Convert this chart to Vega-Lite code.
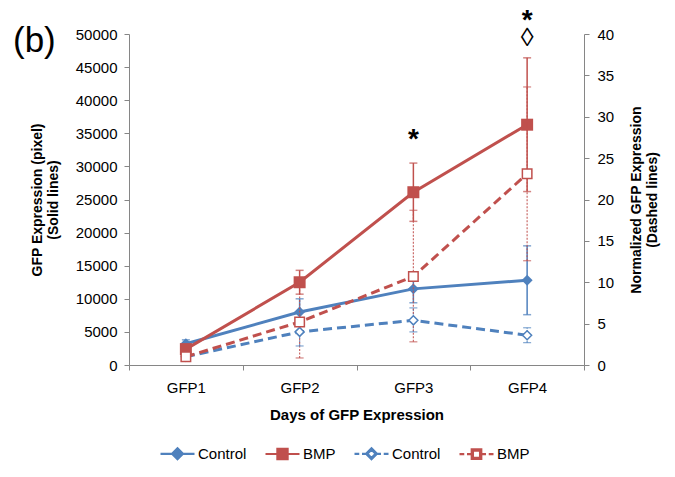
{
  "$schema": "https://vega.github.io/schema/vega-lite/v6.json",
  "width": 455,
  "height": 331,
  "autosize": {"type": "none"},
  "padding": {"left": 129, "top": 34, "right": 91, "bottom": 112},
  "background": "white",
  "config": {
    "view": {"stroke": null},
    "font": "Liberation Sans",
    "axis": {
      "grid": false,
      "domainColor": "#868686",
      "tickColor": "#868686",
      "labelColor": "#000000",
      "titleColor": "#000000",
      "labelFont": "Liberation Sans",
      "titleFont": "Liberation Sans",
      "labelFontSize": 15,
      "titleFontSize": 14,
      "titleFontWeight": "bold",
      "tickSize": 5,
      "labelOverlap": false
    },
    "legend": {"labelFont": "Liberation Sans", "labelFontSize": 15, "labelColor": "#000000"}
  },
  "title": {
    "text": "(b)",
    "anchor": "start",
    "frame": "group",
    "orient": "top",
    "fontSize": 35,
    "fontWeight": "normal",
    "font": "Liberation Sans",
    "color": "#000000",
    "offset": 0,
    "baseline": "top",
    "dx": -116,
    "dy": 52
  },
  "datasets": {
    "px": [
      {"day": "GFP1", "key": "c1", "value": 3200, "lo": 2600, "hi": 3800},
      {"day": "GFP2", "key": "c1", "value": 8000, "lo": 6000, "hi": 10000},
      {"day": "GFP3", "key": "c1", "value": 11500, "lo": 9400, "hi": 13600},
      {"day": "GFP4", "key": "c1", "value": 12800, "lo": 7600, "hi": 18000},
      {"day": "GFP1", "key": "b1", "value": 2400, "lo": 1900, "hi": 2900},
      {"day": "GFP2", "key": "b1", "value": 12500, "lo": 10700, "hi": 14300},
      {"day": "GFP3", "key": "b1", "value": 26100, "lo": 21700, "hi": 30500},
      {"day": "GFP4", "key": "b1", "value": 36300, "lo": 26200, "hi": 46400}
    ],
    "norm": [
      {"day": "GFP1", "key": "c2", "value": 1.0, "lo": 0.8, "hi": 1.2},
      {"day": "GFP2", "key": "c2", "value": 4.0, "lo": 2.3, "hi": 5.7},
      {"day": "GFP3", "key": "c2", "value": 5.4, "lo": 4.0, "hi": 6.9},
      {"day": "GFP4", "key": "c2", "value": 3.6, "lo": 2.7, "hi": 4.5},
      {"day": "GFP1", "key": "b2", "value": 1.0, "lo": 0.7, "hi": 1.3},
      {"day": "GFP2", "key": "b2", "value": 5.2, "lo": 0.85, "hi": 9.5},
      {"day": "GFP3", "key": "b2", "value": 10.7, "lo": 2.8, "hi": 18.7},
      {"day": "GFP4", "key": "b2", "value": 23.1, "lo": 12.6, "hi": 33.6}
    ],
    "ann": [
      {"day": "GFP3", "pos": 34000, "label": "*"},
      {"day": "GFP4", "pos": 52000, "label": "*"},
      {"day": "GFP4", "pos": 49400, "label": "◊"}
    ]
  },
  "encoding": {
    "x": {
      "field": "day",
      "type": "ordinal",
      "scale": {"type": "band", "paddingInner": 0, "paddingOuter": 0, "domain": ["GFP1", "GFP2", "GFP3", "GFP4"]},
      "axis": {
        "title": "Days of GFP Expression",
        "labelAngle": 0,
        "tickBand": "extent",
        "labelPadding": 10,
        "titlePadding": 12,
        "titleFontSize": 15
      }
    }
  },
  "layer": [
    {
      "data": {"name": "px"},
      "layer": [
        {
          "mark": {"type": "rule", "strokeWidth": 1.5},
          "encoding": {
            "y": {
              "field": "lo",
              "type": "quantitative",
              "scale": {"domain": [0, 50000], "nice": false, "zero": true},
              "axis": {"title": ["GFP Expression (pixel)", "(Solid lines)"], "values": [0, 5000, 10000, 15000, 20000, 25000, 30000, 35000, 40000, 45000, 50000], "format": "d", "labelPadding": 7, "titlePadding": 15, "titleFontSize": 14}
            },
            "y2": {"field": "hi"},
            "color": {"field": "key", "type": "nominal"}
          }
        },
        {
          "mark": {"type": "tick", "size": 8, "thickness": 1.5},
          "encoding": {
            "y": {"field": "lo", "type": "quantitative", "axis": {"title": ["GFP Expression (pixel)", "(Solid lines)"], "values": [0, 5000, 10000, 15000, 20000, 25000, 30000, 35000, 40000, 45000, 50000], "format": "d", "labelPadding": 7, "titlePadding": 15, "titleFontSize": 14}},
            "color": {"field": "key", "type": "nominal"}
          }
        },
        {
          "mark": {"type": "tick", "size": 8, "thickness": 1.5},
          "encoding": {
            "y": {"field": "hi", "type": "quantitative", "axis": {"title": ["GFP Expression (pixel)", "(Solid lines)"], "values": [0, 5000, 10000, 15000, 20000, 25000, 30000, 35000, 40000, 45000, 50000], "format": "d", "labelPadding": 7, "titlePadding": 15, "titleFontSize": 14}},
            "color": {"field": "key", "type": "nominal"}
          }
        },
        {
          "mark": {"type": "line", "strokeWidth": 3},
          "encoding": {
            "y": {"field": "value", "type": "quantitative", "axis": {"title": ["GFP Expression (pixel)", "(Solid lines)"], "values": [0, 5000, 10000, 15000, 20000, 25000, 30000, 35000, 40000, 45000, 50000], "format": "d", "labelPadding": 7, "titlePadding": 15, "titleFontSize": 14}},
            "color": {
              "field": "key",
              "type": "nominal",
              "scale": {"domain": ["c1", "b1", "c2", "b2"], "range": ["#4f81bd", "#c0504d", "#4f81bd", "#c0504d"]},
              "legend": {
                "title": null,
                "orient": "none",
                "direction": "horizontal",
                "legendX": 30,
                "legendY": 401,
                "symbolSize": 1156,
                "symbolStrokeWidth": 2.5,
                "labelOffset": 2,
                "columnPadding": 14,
                "labelExpr": "datum.value[0] == 'c' ? 'Control' : 'BMP'",
                "encode": {
                  "symbols": {
                    "update": {
                      "shape": {"signal": "datum.value == 'c1' ? 'M-1,0H1M0,-0.32L0.32,0L0,0.32L-0.32,0Z' : datum.value == 'b1' ? 'M-1,0H1M-0.3,-0.3H0.3V0.3H-0.3Z' : datum.value == 'c2' ? 'M-1,0H-0.72M-0.56,0H-0.34M0.34,0H0.56M0.72,0H1M0,-0.32L0.32,0L0,0.32L-0.32,0ZM0,-0.24L-0.24,0L0,0.24L0.24,0Z' : 'M-1,0H-0.72M-0.56,0H-0.3M0.3,0H0.56M0.72,0H1M-0.28,-0.28H0.28V0.28H-0.28ZM-0.21,-0.21V0.21H0.21V-0.21Z'"},
                      "strokeWidth": {"value": 2.2},
                      "strokeDash": {"value": []}
                    }
                  }
                }
              }
            }
          }
        },
        {
          "transform": [{"filter": "datum.key == 'c1'"}],
          "mark": {"type": "point", "filled": true, "opacity": 1, "shape": "diamond", "size": 120, "color": "#4f81bd"},
          "encoding": {
            "y": {"field": "value", "type": "quantitative", "axis": {"title": ["GFP Expression (pixel)", "(Solid lines)"], "values": [0, 5000, 10000, 15000, 20000, 25000, 30000, 35000, 40000, 45000, 50000], "format": "d", "labelPadding": 7, "titlePadding": 15, "titleFontSize": 14}}
          }
        },
        {
          "transform": [{"filter": "datum.key == 'b1'"}],
          "mark": {"type": "point", "filled": true, "opacity": 1, "shape": "square", "size": 144, "color": "#c0504d"},
          "encoding": {
            "y": {"field": "value", "type": "quantitative", "axis": {"title": ["GFP Expression (pixel)", "(Solid lines)"], "values": [0, 5000, 10000, 15000, 20000, 25000, 30000, 35000, 40000, 45000, 50000], "format": "d", "labelPadding": 7, "titlePadding": 15, "titleFontSize": 14}}
          }
        },
        {
          "data": {"name": "ann"},
          "transform": [{"filter": "datum.label == '*'"}],
          "mark": {"type": "text", "fontSize": 28, "fontWeight": "bold", "baseline": "middle", "color": "#000000"},
          "encoding": {
            "y": {"field": "pos", "type": "quantitative", "axis": {"title": ["GFP Expression (pixel)", "(Solid lines)"], "values": [0, 5000, 10000, 15000, 20000, 25000, 30000, 35000, 40000, 45000, 50000], "format": "d", "labelPadding": 7, "titlePadding": 15, "titleFontSize": 14}},
            "text": {"field": "label"}
          }
        },
        {
          "data": {"name": "ann"},
          "transform": [{"filter": "datum.label != '*'"}],
          "mark": {"type": "text", "fontSize": 26, "baseline": "middle", "color": "#000000"},
          "encoding": {
            "y": {"field": "pos", "type": "quantitative", "axis": {"title": ["GFP Expression (pixel)", "(Solid lines)"], "values": [0, 5000, 10000, 15000, 20000, 25000, 30000, 35000, 40000, 45000, 50000], "format": "d", "labelPadding": 7, "titlePadding": 15, "titleFontSize": 14}},
            "text": {"field": "label"}
          }
        }
      ]
    },
    {
      "data": {"name": "norm"},
      "layer": [
        {
          "mark": {"type": "rule", "strokeWidth": 1.2, "strokeDash": [2, 1.5], "opacity": 0.85},
          "encoding": {
            "y": {
              "field": "lo",
              "type": "quantitative",
              "scale": {"domain": [0, 40], "nice": false, "zero": true},
              "axis": {"orient": "right", "title": ["Normalized GFP Expression", "(Dashed lines)"], "titleAngle": 270, "values": [0, 5, 10, 15, 20, 25, 30, 35, 40], "labelPadding": 8, "titlePadding": 14, "titleFontSize": 14}
            },
            "y2": {"field": "hi"},
            "color": {"field": "key", "type": "nominal"}
          }
        },
        {
          "mark": {"type": "tick", "size": 8, "thickness": 1.2},
          "encoding": {
            "y": {"field": "lo", "type": "quantitative", "axis": {"orient": "right", "title": ["Normalized GFP Expression", "(Dashed lines)"], "titleAngle": 270, "values": [0, 5, 10, 15, 20, 25, 30, 35, 40], "labelPadding": 8, "titlePadding": 14, "titleFontSize": 14}},
            "color": {"field": "key", "type": "nominal"}
          }
        },
        {
          "mark": {"type": "tick", "size": 8, "thickness": 1.2},
          "encoding": {
            "y": {"field": "hi", "type": "quantitative", "axis": {"orient": "right", "title": ["Normalized GFP Expression", "(Dashed lines)"], "titleAngle": 270, "values": [0, 5, 10, 15, 20, 25, 30, 35, 40], "labelPadding": 8, "titlePadding": 14, "titleFontSize": 14}},
            "color": {"field": "key", "type": "nominal"}
          }
        },
        {
          "mark": {"type": "line", "strokeWidth": 3, "strokeDash": [9, 5]},
          "encoding": {
            "y": {"field": "value", "type": "quantitative", "axis": {"orient": "right", "title": ["Normalized GFP Expression", "(Dashed lines)"], "titleAngle": 270, "values": [0, 5, 10, 15, 20, 25, 30, 35, 40], "labelPadding": 8, "titlePadding": 14, "titleFontSize": 14}},
            "color": {"field": "key", "type": "nominal"}
          }
        },
        {
          "transform": [{"filter": "datum.key == 'c2'"}],
          "mark": {"type": "point", "filled": false, "fill": "white", "strokeWidth": 1.5, "opacity": 1, "shape": "diamond", "size": 81, "color": "#4f81bd"},
          "encoding": {
            "y": {"field": "value", "type": "quantitative", "axis": {"orient": "right", "title": ["Normalized GFP Expression", "(Dashed lines)"], "titleAngle": 270, "values": [0, 5, 10, 15, 20, 25, 30, 35, 40], "labelPadding": 8, "titlePadding": 14, "titleFontSize": 14}}
          }
        },
        {
          "transform": [{"filter": "datum.key == 'b2'"}],
          "mark": {"type": "point", "filled": false, "fill": "white", "strokeWidth": 1.5, "opacity": 1, "shape": "square", "size": 90, "color": "#c0504d"},
          "encoding": {
            "y": {"field": "value", "type": "quantitative", "axis": {"orient": "right", "title": ["Normalized GFP Expression", "(Dashed lines)"], "titleAngle": 270, "values": [0, 5, 10, 15, 20, 25, 30, 35, 40], "labelPadding": 8, "titlePadding": 14, "titleFontSize": 14}}
          }
        }
      ]
    }
  ],
  "resolve": {"scale": {"y": "independent"}}
}
